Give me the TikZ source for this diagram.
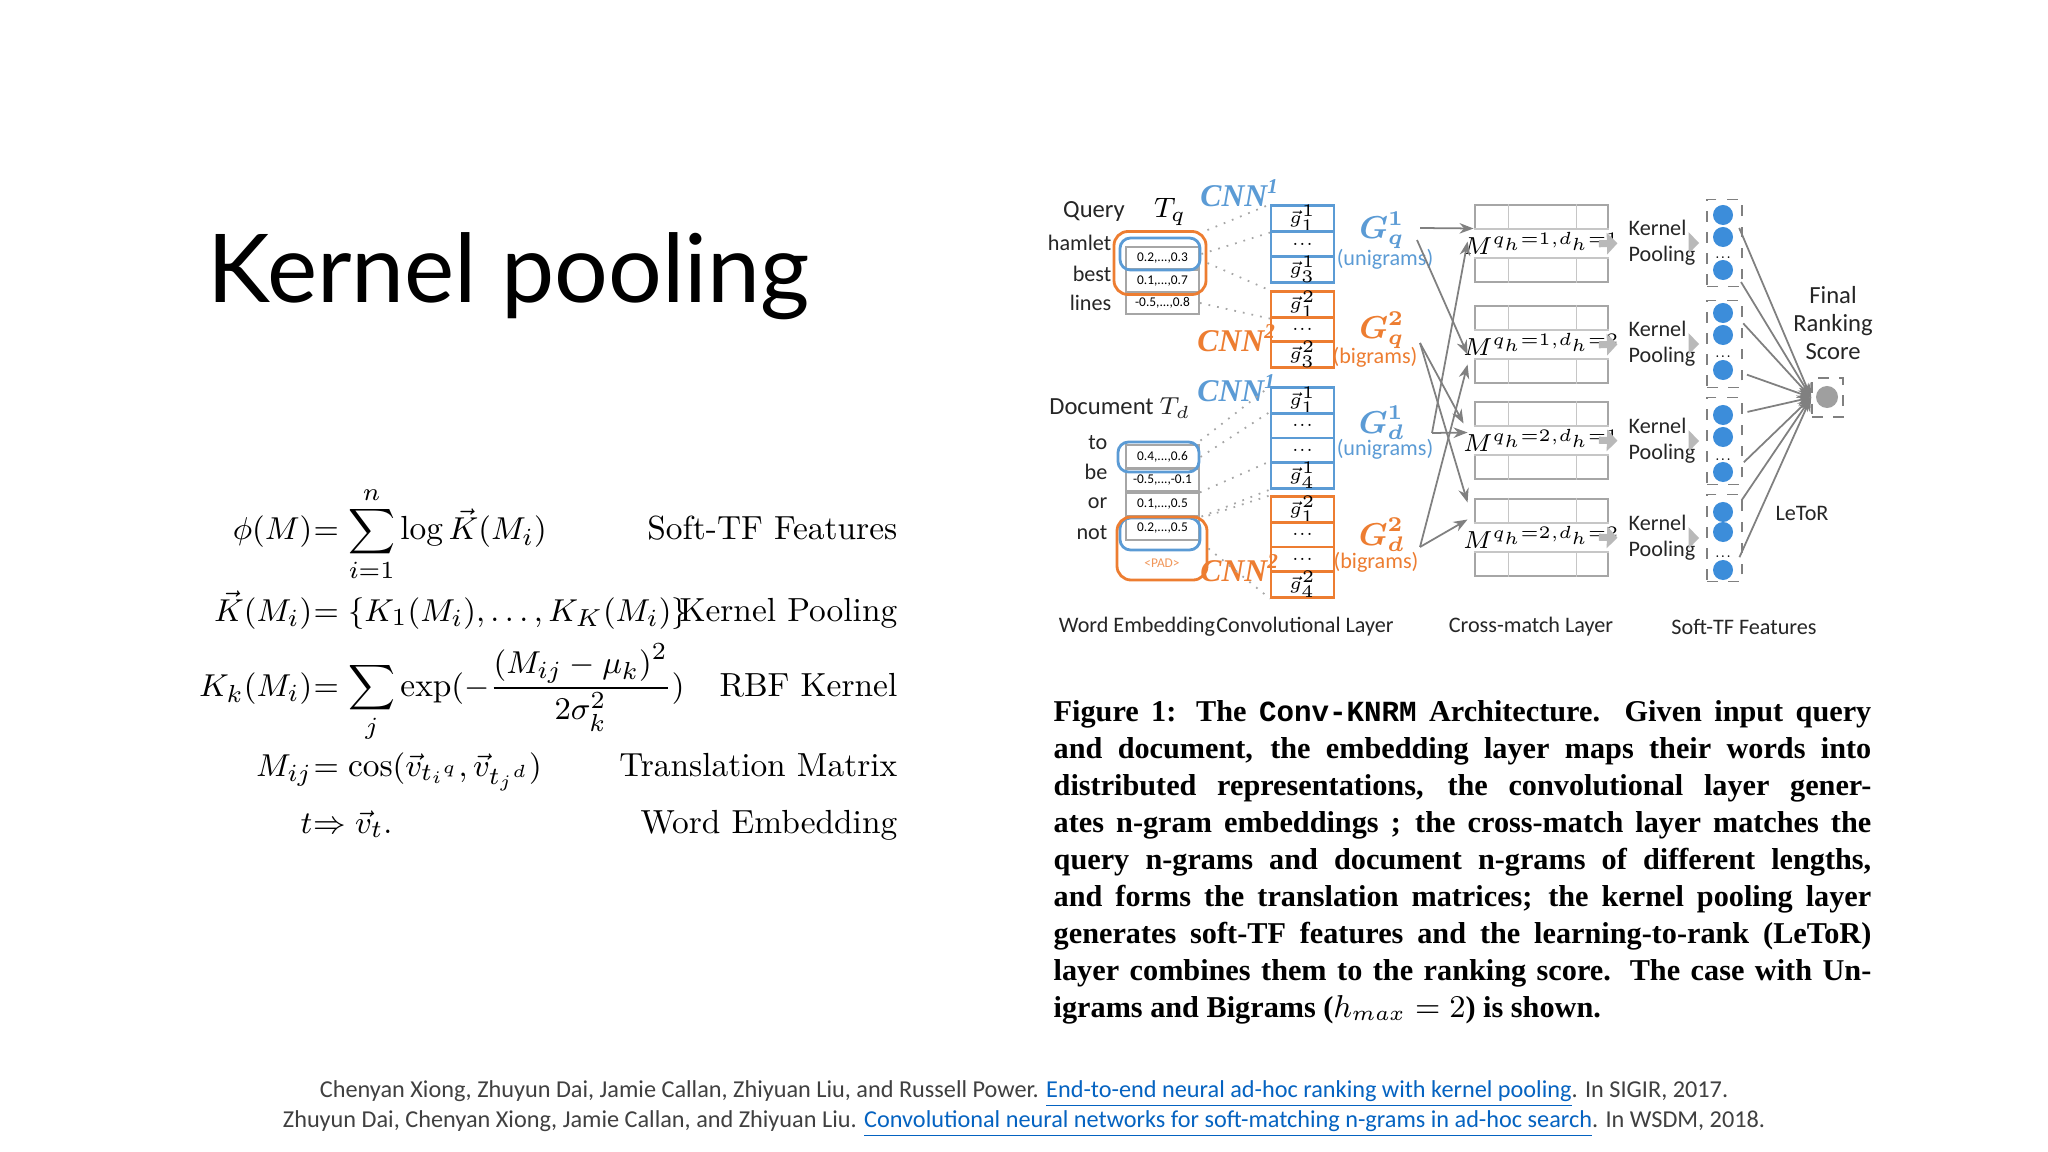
\documentclass[tikz,border=0pt]{standalone}
\usepackage{amsmath}
\usepackage{bm}
\usepackage{fontspec}
\usetikzlibrary{arrows.meta,calc}
\newfontfamily\dgf{Carlito}
\newfontfamily\tif{Lato}
\newfontfamily\capf{Liberation Serif}
\newfontfamily\capm{Liberation Mono}
\definecolor{cblue}{HTML}{5B9BD5}
\definecolor{corange}{HTML}{ED7D31}
\definecolor{lgray}{HTML}{A6A6A6}
\definecolor{dtext}{HTML}{404040}
\definecolor{linkc}{HTML}{0563C1}
\definecolor{circ}{HTML}{3C8DDA}
\tikzset{
 dg/.style={font=\dgf\fontsize{6.3}{7.4}\selectfont, text=black!85, inner sep=0pt},
 embcell/.style={draw=lgray, line width=0.5pt, minimum width=0.73cm, minimum height=0.225cm, inner sep=0pt, font=\dgf\fontsize{3.8}{4}\selectfont},
 bconv/.style={draw=cblue, line width=0.6pt, minimum width=0.63cm, minimum height=0.25cm, inner sep=0pt, font=\fontsize{5}{5}\selectfont},
 oconv/.style={bconv, draw=corange},
 bround/.style={draw=cblue, line width=0.8pt, rounded corners=3pt, inner sep=0pt},
 oround/.style={draw=corange, line width=0.8pt, rounded corners=4pt, inner sep=0pt},
 dotl/.style={lgray, dotted, line width=0.5pt},
 garr/.style={gray, line width=0.5pt, -{Stealth[length=4pt,width=3pt]}},
 fatarr/.style={gray!55, line width=2pt, -{Triangle[length=3pt,width=6pt]}},
 mat/.style={draw=gray!70, line width=0.8pt, minimum width=1.33cm, minimum height=0.77cm, inner sep=0pt},
 sfbox/.style={draw=gray, dashed, line width=0.5pt, minimum width=0.35cm, minimum height=0.87cm, inner sep=0pt},
 bc/.style={circle, fill=circ, minimum size=0.2cm, inner sep=0pt},
 cnnl/.style={font=\capf\bfseries\itshape\fontsize{9}{9}\selectfont, inner sep=0pt},
 eqn/.style={font=\fontsize{9.5}{11}\selectfont, inner sep=0pt},
 eql/.style={font=\fontsize{9.5}{11}\selectfont, inner sep=0pt, anchor=base east},
}
\begin{document}
\begin{tikzpicture}[x=0.01cm,y=-0.01cm]
\useasboundingbox[fill=white] (0,0) rectangle (2048,1152);
% title
\node[anchor=base west, inner sep=0pt, font=\tif\fontsize{27}{30}\selectfont] (title) at (207,303) {Kernel pooling};
% equations
\node[eqn, anchor=base east] (e1l) at (313,540) {$\phi(M)$};
\node[eqn, anchor=base west] (e1r) at (313,540) {$\displaystyle =\sum_{i=1}^{n}\log \vec K(M_i)$};
\node[eqn, anchor=base east] (e2l) at (313,621) {$\vec K(M_i)$};
\node[eqn, anchor=base west] (e2r) at (313,621) {$=\{K_1(M_i),\ldots,K_K(M_i)\}$};
\node[eqn, anchor=base east] (e3l) at (313,696) {$K_k(M_i)$};
\node[eqn, anchor=base west] (e3r) at (313,696) {$\displaystyle =\sum_{j}\exp(-\frac{(M_{ij}-\mu_k)^2}{2\sigma_k^2})$};
\node[eqn, anchor=base east] (e4l) at (313,776) {$M_{ij}$};
\node[eqn, anchor=base west] (e4r) at (313,776) {$=\cos(\vec v_{t_i{}^q},\vec v_{t_j{}^d})$};
\node[eqn, anchor=base east] (e5l) at (313,833) {$t$};
\node[eqn, anchor=base west] (e5r) at (313,833) {$\Rightarrow \vec v_t.$};
\node[eql] (l1) at (898,540) {Soft-TF Features};
\node[eql] (l2) at (898,621) {Kernel Pooling};
\node[eql] (l3) at (898,696) {RBF Kernel};
\node[eql] (l4) at (898,776) {Translation Matrix};
\node[eql] (l5) at (898,833) {Word Embedding};
% caption
\node[anchor=north west, inner sep=0pt, text width=232.5pt, align=justify, font=\capf\bfseries\fontsize{8.6}{10.5}\selectfont] (cap) at (1053,700) {Figure 1: The {\capm\bfseries\fontsize{8.3}{10}\selectfont Conv-KNRM} Architecture. Given input query\linebreak and document, the embedding layer maps their words into\linebreak distributed representations, the convolutional layer gener-\linebreak ates n-gram embeddings ; the cross-match layer matches the\linebreak query n-grams and document n-grams of different lengths,\linebreak and forms the translation matrices; the kernel pooling layer\linebreak generates soft-TF features and the learning-to-rank (LeToR)\linebreak layer combines them to the ranking score. The case with Un-\linebreak igrams and Bigrams ($h_{max}=2$) is shown.};
% references
\node[inner sep=0pt, font=\dgf\fontsize{6.9}{8}\selectfont, text=dtext] (r1) at (1024,1094) {Chenyan Xiong, Zhuyun Dai, Jamie Callan, Zhiyuan Liu, and Russell Power. \textcolor{linkc}{\underline{End-to-end neural ad-hoc ranking with kernel pooling}}. In SIGIR, 2017.};
\node[inner sep=0pt, font=\dgf\fontsize{6.9}{8}\selectfont, text=dtext] (r2) at (1024,1124) {Zhuyun Dai, Chenyan Xiong, Jamie Callan, and Zhiyuan Liu. \textcolor{linkc}{\underline{Convolutional neural networks for soft-matching n-grams in ad-hoc search}}. In WSDM, 2018.};
% ---------- diagram ----------
\node[dg, font=\dgf\fontsize{7}{8}\selectfont] (qlab) at (1094,212) {Query};
\node[inner sep=0pt, font=\fontsize{8}{8}\selectfont] (tq) at (1170,212) {$T_q$};
\node[dg, anchor=east] (w1) at (1112,243) {hamlet};
\node[dg, anchor=east] (w2) at (1112,274) {best};
\node[dg, anchor=east] (w3) at (1112,303) {lines};
\node[embcell] (qe1) at (1162.5,258) {0.2,...,0.3};
\node[embcell] (qe2) at (1162.5,281) {0.1,...,0.7};
\node[embcell] (qe3) at (1162.5,303) {-0.5,...,0.8};
\node[bround, minimum width=0.8cm, minimum height=0.32cm] (qb) at (1160,254) {};
\node[oround, minimum width=0.92cm, minimum height=0.63cm] (qo) at (1160,263) {};
\node[cnnl, text=cblue] (cq1) at (1240,193) {CNN\textsuperscript{1}};
\node[cnnl, text=corange] (cq2) at (1237,338) {CNN\textsuperscript{2}};
\node[bconv] (qa1) at (1302.5,218.5) {$\vec g^1_1$};
\node[bconv] (qa2) at (1302.5,244) {...};
\node[bconv] (qa3) at (1302.5,269.5) {$\vec g^1_3$};
\node[oconv] (qc1) at (1302.5,304.5) {$\vec g^2_1$};
\node[oconv] (qc2) at (1302.5,329.5) {...};
\node[oconv] (qc3) at (1302.5,354.5) {$\vec g^2_3$};
\draw[dotl] (qo.north east) -- (qa1.north west);
\draw[dotl] (qb.east) -- (qa1.south west);
\draw[dotl] (qo.east) -- (qc1.north west);
\draw[dotl] (qe3.east) -- (qc1.south west);
% document
\node[dg, font=\dgf\fontsize{7}{8}\selectfont] (dlab) at (1120,408) {Document $T_d$};
\node[dg, anchor=east] (x1) at (1108,443) {to};
\node[dg, anchor=east] (x2) at (1108,472) {be};
\node[dg, anchor=east] (x3) at (1108,503) {or};
\node[dg, anchor=east] (x4) at (1108,533) {not};
\node[embcell] (de1) at (1162.5,456.5) {0.4,...,0.6};
\node[embcell] (de2) at (1162.5,480) {-0.5,...,-0.1};
\node[embcell] (de3) at (1162.5,504.5) {0.1,...,0.5};
\node[embcell] (de4) at (1162.5,528.5) {0.2,...,0.5};
\node[inner sep=0pt, text=corange!80, font=\dgf\fontsize{3.8}{4}\selectfont] (pad) at (1162,563) {\textless PAD\textgreater};
\node[bround, minimum width=0.81cm, minimum height=0.3cm] (db1) at (1158.5,457) {};
\node[bround, minimum width=0.8cm, minimum height=0.32cm] (db2) at (1160,534) {};
\node[oround, minimum width=0.9cm, minimum height=0.63cm] (do) at (1162,548.5) {};
\node[cnnl, text=cblue] (cd1) at (1237,388) {CNN\textsuperscript{1}};
\node[cnnl, text=corange] (cd2) at (1240,568) {CNN\textsuperscript{2}};
\node[bconv] (da1) at (1302.5,400.5) {$\vec g^1_1$};
\node[bconv] (da2) at (1302.5,425.5) {...};
\node[bconv] (da3) at (1302.5,450.5) {...};
\node[bconv] (da4) at (1302.5,475.5) {$\vec g^1_4$};
\node[oconv] (dc1) at (1302.5,509.5) {$\vec g^2_1$};
\node[oconv] (dc2) at (1302.5,534.5) {...};
\node[oconv] (dc3) at (1302.5,559.5) {...};
\node[oconv] (dc4) at (1302.5,584.5) {$\vec g^2_4$};
\draw[dotl] (db1.north east) -- (da1.north west);
\draw[dotl] (db1.east) -- (da2.north west);
\draw[dotl] (de3.north east) -- (da4.north west);
\draw[dotl] (db2.north east) -- (da4.south west);
\draw[dotl] (do.north east) -- (dc1.north west);
\draw[dotl] (do.east) -- (dc4.south west);
% G labels
\node[inner sep=0pt, text=cblue, font=\fontsize{9}{9}\selectfont] (gq1) at (1382,230) {$\bm{G^1_q}$};
\node[dg, text=cblue] (uq) at (1385,259) {(unigrams)};
\node[inner sep=0pt, text=corange, font=\fontsize{9}{9}\selectfont] (gq2) at (1382,330) {$\bm{G^2_q}$};
\node[dg, text=corange] (bq) at (1375,357) {(bigrams)};
\node[inner sep=0pt, text=cblue, font=\fontsize{9}{9}\selectfont] (gd1) at (1382,423) {$\bm{G^1_d}$};
\node[dg, text=cblue] (ud) at (1385,449) {(unigrams)};
\node[inner sep=0pt, text=corange, font=\fontsize{9}{9}\selectfont] (gd2) at (1382,535) {$\bm{G^2_d}$};
\node[dg, text=corange] (bd) at (1376,562) {(bigrams)};
% matrices
\foreach \n/\yy/\a/\b in {1/243.5/1/1, 2/344.5/1/2, 3/440.5/2/1, 4/537.5/2/2}{
  \node[mat] (M\n) at (1541.5,\yy) {};
  \draw[gray!45, line width=0.5pt] ($(M\n.north west)+(35,0)$) -- ($(M\n.south west)+(35,0)$)
     ($(M\n.north east)+(-33,0)$) -- ($(M\n.south east)+(-33,0)$)
     ($(M\n.north west)+(0,25.6)$) -- ($(M\n.north east)+(0,25.6)$)
     ($(M\n.south west)+(0,-25.6)$) -- ($(M\n.south east)+(0,-25.6)$);
  \node[fill=white, inner sep=0.5pt, font=\fontsize{7.5}{8}\selectfont] (ML\n) at (M\n) {$M^{q_h=\a,d_h=\b}$};
}
\coordinate (gq1a) at (1420,228);
\coordinate (gq1b) at (1417,240);
\coordinate (gq2a) at (1420,343);
\coordinate (gd1a) at (1432,433);
\coordinate (gd2a) at (1420,547);
\draw[garr] (gq1a) -- ($(M1.west)+(0,-15)$);
\draw[garr] (gq1b) -- ($(M2.west)+(-6,10)$);
\draw[garr] (gq2a) -- ($(M3.west)+(-10,-17)$);
\draw[garr] (gq2a) -- ($(M4.west)+(-6,-35)$);
\draw[garr] (gd1a) -- ($(M1.west)+(-6,-2)$);
\draw[garr] (gd1a) -- ($(M3.west)+(-6,-8)$);
\draw[garr] (gd2a) -- ($(M2.west)+(-6,20)$);
\draw[garr] (gd2a) -- ($(M4.west)+(-6,-18)$);
% kernel pooling and soft-TF
\foreach \n/\yy/\ya/\yb/\yd/\yc in {1/243/215/237/258/270, 2/344/313/335/357/370, 3/441/415/437/460/472, 4/538/512/532/557/570}{
  \node[dg, align=left] (kp\n) at (1662,\yy) {Kernel\\Pooling};
  \node[sfbox] (sf\n) at (1724.5,\yy) {};
  \node[bc] (ca\n) at (1723,\ya) {};
  \node[bc] (cb\n) at (1723,\yb) {};
  \node[inner sep=0pt, font=\fontsize{4}{4}\selectfont] (cd\n) at (1723,\yd) {...};
  \node[bc] (cc\n) at (1723,\yc) {};
  \draw[fatarr, shorten <=3pt, shorten >=3pt] (M\n.east) -- (kp\n.west);
  \draw[fatarr, shorten <=1pt, shorten >=2pt] (kp\n.east) -- (sf\n.west);
}
\node[draw=gray, dashed, line width=0.5pt, minimum width=0.31cm, minimum height=0.39cm, inner sep=0pt] (fin) at (1827.5,397.5) {};
\node[circle, fill=gray!75, minimum size=0.22cm, inner sep=0pt] (finc) at (1827,397) {};
\foreach \n in {1,2,3,4}{
  \draw[garr, shorten <=4pt] (ca\n.east) -- (fin.west);
  \draw[garr, shorten <=4pt] (cc\n.east) -- (fin.west);
}
\node[dg, align=center, font=\dgf\fontsize{7}{8}\selectfont] (frs) at (1833,323) {Final\\Ranking\\Score};
\node[dg] (letor) at (1802,513) {LeToR};
% bottom labels
\node[dg] (bl1) at (1137,627) {Word Embedding};
\node[dg] (bl2) at (1305,627) {Convolutional Layer};
\node[dg] (bl3) at (1531,627) {Cross-match Layer};
\node[dg] (bl4) at (1744,627) {Soft-TF Features};
\end{tikzpicture}
\end{document}
